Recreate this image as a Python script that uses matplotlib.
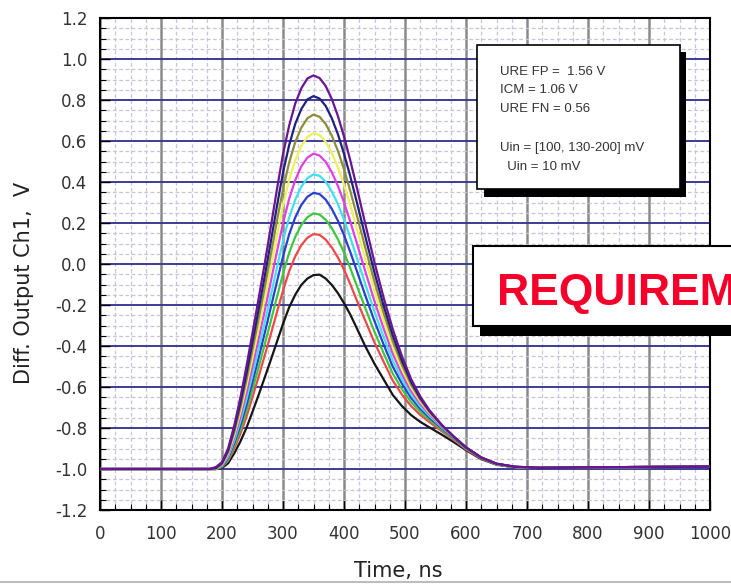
import matplotlib.pyplot as plt
from matplotlib.patches import Rectangle
from matplotlib.lines import Line2D
from matplotlib.ticker import MultipleLocator, FormatStrFormatter

plt.rcParams['axes.unicode_minus'] = False

# time axis, ns
time_ns = [0, 100, 180, 190, 200, 210, 220, 230, 240, 250, 260, 270, 280, 290,
           300, 310, 320, 330, 340, 350, 360, 370, 380, 390, 400, 410, 420,
           435, 450, 465, 480, 495, 510, 525, 540, 560, 580, 600, 625, 650,
           680, 720, 800, 900, 1000]

# differential output, V  (one trace per input amplitude)
out_purple = [-1.0, -1.0, -1.0, -0.99, -0.967, -0.90, -0.789, -0.654, -0.501, -0.336,
              -0.169, 0.002, 0.181, 0.363, 0.536, 0.674, 0.782, 0.857, 0.905, 0.92,
              0.907, 0.868, 0.805, 0.722, 0.622, 0.509, 0.386, 0.194, 0.008, -0.165,
              -0.318, -0.450, -0.561, -0.646, -0.713, -0.784, -0.843, -0.895, -0.944,
              -0.974, -0.989, -0.994, -0.992, -0.99, -0.988]
out_navy = [-1.0, -1.0, -1.0, -0.995, -0.971, -0.910, -0.805, -0.680, -0.536, -0.380,
            -0.222, -0.060, 0.109, 0.281, 0.446, 0.579, 0.683, 0.756, 0.803, 0.819,
            0.807, 0.771, 0.711, 0.633, 0.538, 0.431, 0.314, 0.133, -0.042, -0.204,
            -0.349, -0.472, -0.575, -0.654, -0.717, -0.785, -0.842, -0.895, -0.944,
            -0.974, -0.989, -0.994, -0.992, -0.99, -0.988]
out_olive = [-1.0, -1.0, -1.0, -1.0, -0.975, -0.917, -0.820, -0.702, -0.567, -0.419,
             -0.269, -0.115, 0.045, 0.209, 0.365, 0.494, 0.594, 0.665, 0.711, 0.729,
             0.718, 0.683, 0.626, 0.552, 0.462, 0.360, 0.249, 0.079, -0.087, -0.239,
             -0.377, -0.492, -0.589, -0.662, -0.721, -0.786, -0.842, -0.894, -0.944,
             -0.975, -0.989, -0.994, -0.992, -0.99, -0.988]
out_yellow = [-1.0, -1.0, -1.0, -1.0, -0.978, -0.925, -0.834, -0.724, -0.597, -0.457,
              -0.315, -0.169, -0.017, 0.137, 0.286, 0.410, 0.506, 0.575, 0.620, 0.638,
              0.629, 0.596, 0.542, 0.471, 0.386, 0.289, 0.184, 0.024, -0.132, -0.275,
              -0.406, -0.513, -0.603, -0.671, -0.726, -0.788, -0.843, -0.895, -0.944,
              -0.975, -0.990, -0.994, -0.992, -0.99, -0.988]
out_magenta = [-1.0, -1.0, -1.0, -1.0, -0.981, -0.933, -0.849, -0.747, -0.630, -0.499,
               -0.365, -0.228, -0.086, 0.059, 0.199, 0.317, 0.409, 0.476, 0.519, 0.538,
               0.529, 0.498, 0.448, 0.381, 0.301, 0.210, 0.112, -0.037, -0.182, -0.315,
               -0.438, -0.537, -0.619, -0.682, -0.733, -0.792, -0.844, -0.895, -0.944,
               -0.975, -0.990, -0.994, -0.992, -0.99, -0.988]
out_cyan = [-1.0, -1.0, -1.0, -1.0, -0.984, -0.941, -0.863, -0.769, -0.661, -0.539,
            -0.414, -0.285, -0.154, -0.018, 0.113, 0.226, 0.313, 0.377, 0.419, 0.437,
            0.430, 0.401, 0.354, 0.292, 0.217, 0.132, 0.040, -0.099, -0.233, -0.356,
            -0.471, -0.562, -0.637, -0.695, -0.741, -0.796, -0.846, -0.897, -0.945,
            -0.976, -0.990, -0.994, -0.992, -0.99, -0.988]
out_blue = [-1.0, -1.0, -1.0, -1.0, -0.987, -0.947, -0.875, -0.789, -0.689, -0.574,
            -0.458, -0.337, -0.213, -0.087, 0.036, 0.144, 0.227, 0.288, 0.328, 0.347,
            0.341, 0.314, 0.269, 0.211, 0.141, 0.061, -0.025, -0.154, -0.279, -0.393,
            -0.501, -0.584, -0.653, -0.706, -0.749, -0.801, -0.849, -0.898, -0.946,
            -0.976, -0.990, -0.994, -0.992, -0.99, -0.988]
out_green = [-1.0, -1.0, -1.0, -1.0, -0.989, -0.954, -0.888, -0.810, -0.718, -0.612,
             -0.505, -0.392, -0.279, -0.162, -0.048, 0.054, 0.132, 0.190, 0.228, 0.247,
             0.241, 0.216, 0.175, 0.121, 0.056, -0.018, -0.098, -0.216, -0.331, -0.435,
             -0.535, -0.611, -0.673, -0.721, -0.760, -0.808, -0.853, -0.901, -0.947,
             -0.977, -0.991, -0.994, -0.992, -0.99, -0.988]
out_red = [-1.0, -1.0, -1.0, -1.0, -0.991, -0.960, -0.901, -0.830, -0.747, -0.650,
           -0.550, -0.447, -0.343, -0.236, -0.130, -0.036, 0.037, 0.092, 0.128, 0.146,
           0.142, 0.119, 0.081, 0.032, -0.028, -0.096, -0.170, -0.277, -0.383, -0.477,
           -0.569, -0.637, -0.693, -0.736, -0.771, -0.815, -0.858, -0.904, -0.949,
           -0.977, -0.991, -0.994, -0.992, -0.99, -0.988]
out_black = [-1.0, -1.0, -1.0, -1.0, -0.995, -0.972, -0.924, -0.867, -0.800, -0.721,
             -0.639, -0.554, -0.468, -0.380, -0.292, -0.212, -0.150, -0.102, -0.071, -0.054,
             -0.052, -0.071, -0.102, -0.142, -0.191, -0.245, -0.307, -0.402, -0.487, -0.563,
             -0.639, -0.693, -0.737, -0.770, -0.797, -0.832, -0.869, -0.908, -0.952,
             -0.979, -0.992, -0.995, -0.992, -0.99, -0.988]

traces = [
    (out_black, "#151515"),
    (out_red, "#f04848"),
    (out_green, "#3cc83c"),
    (out_blue, "#2a3fd0"),
    (out_cyan, "#3fe0f0"),
    (out_magenta, "#e040e0"),
    (out_yellow, "#f0f05a"),
    (out_olive, "#8c8c3c"),
    (out_navy, "#202080"),
    (out_purple, "#6a1591"),
]

info_lines = ["URE FP =  1.56 V", "ICM = 1.06 V", "URE FN = 0.56", "",
              "Uin = [100, 130-200] mV", "  Uin = 10 mV"]

W, H = 731, 586
fig = plt.figure(figsize=(W / 100, H / 100), dpi=100)


def fx(px):
    return px / W


def fy(py):
    return 1 - py / H


ax = fig.add_axes([fx(100), fy(510), (710 - 100) / W, (510 - 18) / H])

for vals, color in traces:
    ax.plot(time_ns, vals, color=color, lw=1.6, zorder=3)

ax.set_xlim(0, 1000)
ax.set_ylim(-1.2, 1.2)
ax.xaxis.set_major_locator(MultipleLocator(100))
ax.xaxis.set_minor_locator(MultipleLocator(25))
ax.yaxis.set_major_locator(MultipleLocator(0.2))
ax.yaxis.set_minor_locator(MultipleLocator(0.05))
ax.yaxis.set_major_formatter(FormatStrFormatter("%.1f"))

ax.set_axisbelow(True)
ax.grid(which="minor", color="#c6c6da", lw=0.9, ls=(0, (3, 2)))
ax.grid(which="major", axis="x", color="#8a8a8a", lw=1.8)
ax.grid(which="major", axis="y", color="#3c3c96", lw=1.4)

ax.tick_params(which="both", direction="in", top=False, right=False,
               colors="black", labelcolor="#333333", labelsize=12)
ax.tick_params(which="major", length=7, width=1.0)
ax.tick_params(which="minor", length=4, width=0.8)
ax.tick_params(axis="x", pad=11)
ax.tick_params(axis="y", pad=9)
for sp in ax.spines.values():
    sp.set_linewidth(1.5)
    sp.set_color("black")

fig.text(fx(24), fy(283), "Diff. Output Ch1,  V", rotation=90,
         ha="center", va="center", fontsize=15, color="#222222")
fig.text(fx(398), fy(571), "Time, ns", ha="center", va="center",
         fontsize=15, color="#222222")

# parameter box with drop shadow
fig.add_artist(Rectangle((fx(484), fy(197)), (686 - 484) / W, (197 - 52) / H,
                         transform=fig.transFigure, facecolor="black",
                         edgecolor="none", zorder=5))
fig.add_artist(Rectangle((fx(477), fy(189)), (680 - 477) / W, (189 - 45) / H,
                         transform=fig.transFigure, facecolor="white",
                         edgecolor="black", lw=1.2, zorder=6))
line_y = [72, 90, 109, 128, 148, 167]
for txt, py in zip(info_lines, line_y):
    if txt:
        fig.text(fx(500), fy(py), txt, ha="left", va="center", fontsize=9.5,
                 family="Liberation Sans", color="#333333", zorder=7)

# banner box
fig.add_artist(Rectangle((fx(480), fy(336)), (760 - 480) / W, (336 - 256) / H,
                         transform=fig.transFigure, facecolor="black",
                         edgecolor="none", zorder=5))
fig.add_artist(Rectangle((fx(473), fy(326)), (760 - 473) / W, (326 - 246) / H,
                         transform=fig.transFigure, facecolor="white",
                         edgecolor="black", lw=1.5, zorder=6))
fig.text(fx(497), fy(305), "REQUIREMENTS", ha="left", va="baseline",
         fontsize=32, fontweight="bold", family="Liberation Sans",
         color="#f5002a", zorder=7)

fig.add_artist(Line2D([0, 1], [fy(582), fy(582)], transform=fig.transFigure,
                      color="#bdbdbd", lw=1.5))

fig.savefig("out.png", dpi=100)
